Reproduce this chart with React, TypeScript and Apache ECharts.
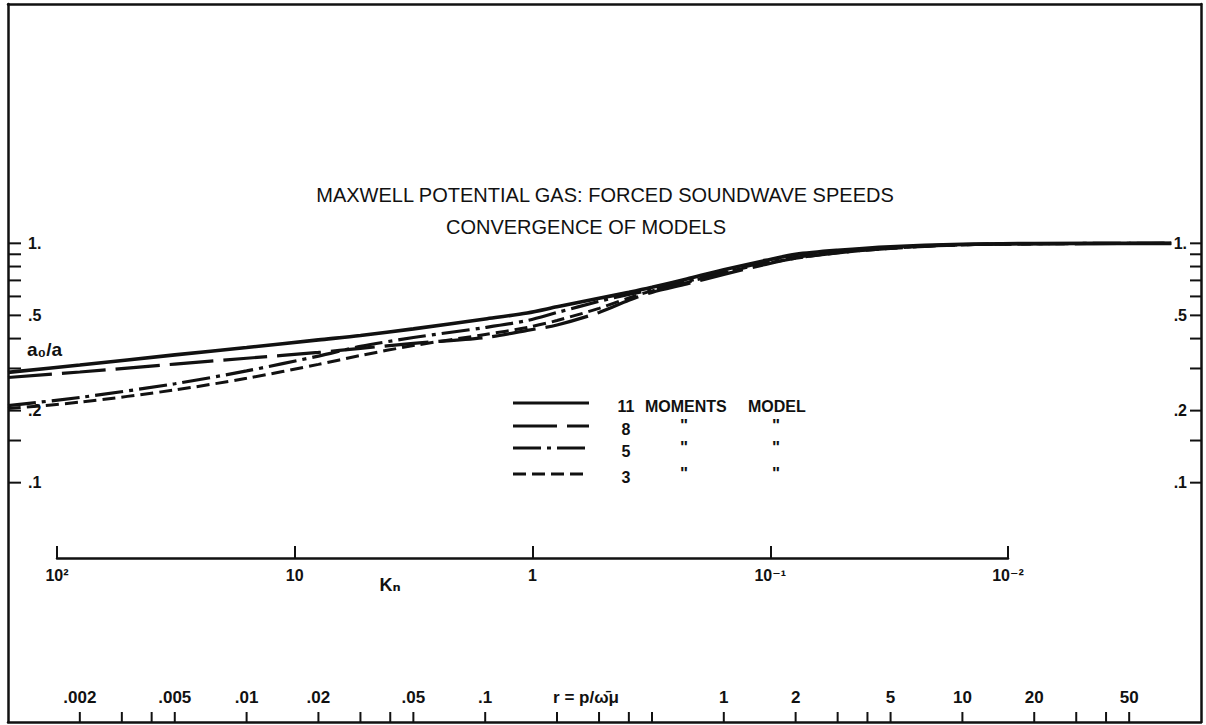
import { useEffect, useRef } from 'react';
import * as echarts from 'echarts';

// ---- data ----
// abscissa: r = p / (omega-bar mu), log scale
const R_SAMPLES = [0.001, 0.002, 0.005, 0.01, 0.02, 0.03, 0.05, 0.1, 0.15, 0.2, 0.3, 0.4, 0.5, 0.7, 1, 1.5, 2, 3, 5, 10, 20, 75];
// a0/a for each model
const MOMENTS_11 = [0.289, 0.31, 0.342, 0.367, 0.395, 0.412, 0.439, 0.483, 0.512, 0.543, 0.589, 0.624, 0.655, 0.71, 0.775, 0.849, 0.899, 0.935, 0.967, 0.99, 0.998, 1.0];
const MOMENTS_8 = [0.275, 0.29, 0.313, 0.331, 0.35, 0.364, 0.382, 0.404, 0.433, 0.456, 0.514, 0.578, 0.624, 0.677, 0.742, 0.817, 0.866, 0.913, 0.953, 0.986, 0.995, 1.0];
const MOMENTS_5 = [0.21, 0.227, 0.259, 0.293, 0.338, 0.371, 0.404, 0.445, 0.476, 0.514, 0.572, 0.612, 0.639, 0.693, 0.76, 0.833, 0.874, 0.921, 0.958, 0.988, 0.997, 1.0];
const MOMENTS_3 = [0.204, 0.217, 0.244, 0.273, 0.312, 0.34, 0.374, 0.416, 0.445, 0.476, 0.535, 0.592, 0.633, 0.687, 0.753, 0.825, 0.866, 0.913, 0.953, 0.986, 0.995, 1.0];
const SERIES_NAMES = ['11', '8', '5', '3'];

// axis ticks & labels
const Y_TICKS = [1, 0.9, 0.8, 0.7, 0.6, 0.5, 0.4, 0.3, 0.2, 0.15, 0.1];
const Y_TICK_LABELS = ['1.', '', '', '', '', '.5', '', '', '.2', '', '.1'];
const R_TICKS = [0.002, 0.003, 0.004, 0.005, 0.01, 0.02, 0.03, 0.04, 0.05, 0.1, 0.2, 0.3, 0.4, 0.5, 1, 2, 3, 4, 5, 10, 20, 30, 40, 50];
const R_TICK_LABELS = ['.002', '', '', '.005', '.01', '.02', '', '', '.05', '.1', '', '', '', '', '1', '2', '', '', '5', '10', '20', '', '', '50'];
const KN_TICKS = [100, 10, 1, 0.1, 0.01];
const KN_TICK_LABELS = ['10²', '10', '1', '10⁻¹', '10⁻²'];

const TITLE_LINES = ['MAXWELL POTENTIAL GAS: FORCED SOUNDWAVE SPEEDS', 'CONVERGENCE OF MODELS'];
const LEGEND_HEADERS = ['MOMENTS', 'MODEL'];
const DITTO = '"';
const Y_NAME = 'a₀/a';
const KN_NAME = 'Kₙ';
const R_NAME = 'r = p/ω̄μ';

// ---- styling ----
const INK = '#111';
const FONT = '"Liberation Sans", "DejaVu Sans", Arial, sans-serif';
const X_MIN = 0.001;
const X_MAX = 100;
const Y_MIN = 0.01;
const Y_MAX = 10;
const DASHES: (number[] | 'solid')[] = ['solid', [44, 10], [28, 6, 4, 6], [13, 6]];
const WIDTHS = [3.6, 3.2, 3.2, 3];
const LEGEND_ROWS = [403, 426, 448, 474];

export default function App() {
  const ref = useRef<HTMLDivElement>(null);

  useEffect(() => {
    if (!ref.current) return;
    const chart = echarts.init(ref.current, undefined, { renderer: 'svg' });
    const seriesData = [MOMENTS_11, MOMENTS_8, MOMENTS_5, MOMENTS_3];

    const lineSeries = SERIES_NAMES.map((name, i) => ({
      name,
      type: 'line',
      xAxisIndex: 0,
      yAxisIndex: 0,
      data: R_SAMPLES.map((r, j) => [r, seriesData[i][j]]),
      smooth: 0.3,
      symbol: 'none',
      z: 5 - i,
      lineStyle: { color: INK, width: WIDTHS[i], type: DASHES[i], cap: 'butt' },
    }));

    const labelStyle = (text: string, align: string, size = 16) => ({
      text,
      align,
      verticalAlign: 'middle',
      fontSize: size,
      fontWeight: 'bold',
      fontFamily: FONT,
      fill: INK,
    });

    const yTickSeries = {
      type: 'custom',
      name: 'yTicks',
      xAxisIndex: 0,
      yAxisIndex: 0,
      silent: true,
      clip: false,
      z: 3,
      data: Y_TICKS.map((v) => [X_MIN, v]),
      renderItem: (params: any, api: any) => {
        const i = params.dataIndex;
        const v = api.value(1);
        const l = api.coord([X_MIN, v]);
        const r = api.coord([X_MAX, v]);
        const children: any[] = [
          { type: 'line', shape: { x1: l[0], y1: l[1], x2: l[0] + 13, y2: l[1] }, style: { stroke: INK, lineWidth: 2 } },
          { type: 'line', shape: { x1: r[0] - 11, y1: r[1], x2: r[0], y2: r[1] }, style: { stroke: INK, lineWidth: 2 } },
        ];
        const label = Y_TICK_LABELS[i];
        if (label) {
          children.push({ type: 'text', x: l[0] + 20, y: l[1], style: labelStyle(label, 'left') });
          children.push({ type: 'text', x: r[0] - 14, y: r[1], style: labelStyle(label, 'right') });
        }
        return { type: 'group', children };
      },
    };

    const rTickSeries = {
      type: 'custom',
      name: 'rTicks',
      xAxisIndex: 0,
      yAxisIndex: 0,
      silent: true,
      clip: false,
      z: 3,
      data: R_TICKS.map((v) => [v, Y_MIN]),
      renderItem: (params: any, api: any) => {
        const i = params.dataIndex;
        const p = api.coord([api.value(0), Y_MIN]);
        const children: any[] = [
          { type: 'line', shape: { x1: p[0], y1: p[1], x2: p[0], y2: p[1] - 10 }, style: { stroke: INK, lineWidth: 2 } },
        ];
        const label = R_TICK_LABELS[i];
        if (label) {
          children.push({ type: 'text', x: p[0], y: p[1] - 25, style: labelStyle(label, 'center', 17) });
        }
        return { type: 'group', children };
      },
    };

    const knLabel = (v: number) => {
      const idx = KN_TICKS.findIndex((t) => Math.abs(Math.log10(t) - Math.log10(v)) < 1e-6);
      return idx >= 0 ? KN_TICK_LABELS[idx] : '';
    };

    const textStyle = (text: string, size: number, weight = 'bold', align = 'left') => ({
      text, align, verticalAlign: 'middle', fontSize: size, fontWeight: weight, fontFamily: FONT, fill: INK,
    });

    const graphics: any[] = [
      { type: 'text', x: 605, y: 195, style: textStyle(TITLE_LINES[0], 20, 'normal', 'center') },
      { type: 'text', x: 586, y: 227, style: textStyle(TITLE_LINES[1], 20, 'normal', 'center') },
      { type: 'text', x: 27, y: 349, style: textStyle(Y_NAME, 19) },
      { type: 'text', x: 390, y: 585, style: textStyle(KN_NAME, 18, 'bold', 'center') },
      { type: 'text', x: 586, y: 697, style: textStyle(R_NAME, 17, 'bold', 'center') },
      { type: 'text', x: 645, y: 406, style: textStyle(LEGEND_HEADERS[0], 16) },
      { type: 'text', x: 748, y: 406, style: textStyle(LEGEND_HEADERS[1], 16) },
    ];
    SERIES_NAMES.forEach((name, i) => {
      const y = LEGEND_ROWS[i];
      graphics.push({
        type: 'line',
        shape: { x1: 513, y1: y, x2: 589, y2: y },
        style: { stroke: INK, lineWidth: 3, lineDash: DASHES[i] === 'solid' ? null : DASHES[i] },
      });
      graphics.push({ type: 'text', x: 626, y: y + 3, style: textStyle(name, 16, 'bold', 'center') });
      if (i > 0) {
        graphics.push({ type: 'text', x: 684, y: y - 1, style: textStyle(DITTO, 17, 'bold', 'center') });
        graphics.push({ type: 'text', x: 776, y: y - 1, style: textStyle(DITTO, 17, 'bold', 'center') });
      }
    });

    const frameLine = { show: true, lineStyle: { color: INK, width: 2.5 } };

    chart.setOption({
      animation: false,
      backgroundColor: '#fff',
      grid: [
        { left: 8, right: 5, top: 4, bottom: 3, containLabel: false, outerBoundsMode: 'none' },
        { left: 57, right: 198, top: 540, height: 18, containLabel: false, outerBoundsMode: 'none' },
      ],
      xAxis: [
        {
          type: 'log', gridIndex: 0, min: X_MIN, max: X_MAX, position: 'bottom',
          axisLine: frameLine, axisTick: { show: false }, axisLabel: { show: false }, splitLine: { show: false },
        },
        {
          type: 'log', gridIndex: 0, min: X_MIN, max: X_MAX, position: 'top',
          axisLine: frameLine, axisTick: { show: false }, axisLabel: { show: false }, splitLine: { show: false },
        },
        {
          type: 'log', gridIndex: 1, min: 0.01, max: 100, inverse: true, position: 'bottom',
          axisLine: { show: true, onZero: false, lineStyle: { color: INK, width: 2.5 } },
          axisTick: { show: true, inside: true, length: 12, lineStyle: { color: INK, width: 2 } },
          axisLabel: { show: true, margin: 9, formatter: knLabel, color: INK, fontSize: 16, fontWeight: 'bold', fontFamily: FONT },
          splitLine: { show: false },
        },
      ],
      yAxis: [
        {
          type: 'log', gridIndex: 0, min: Y_MIN, max: Y_MAX, position: 'left',
          axisLine: frameLine, axisTick: { show: false }, axisLabel: { show: false }, splitLine: { show: false },
        },
        {
          type: 'log', gridIndex: 0, min: Y_MIN, max: Y_MAX, position: 'right',
          axisLine: frameLine, axisTick: { show: false }, axisLabel: { show: false }, splitLine: { show: false },
        },
        { type: 'value', gridIndex: 1, show: false },
      ],
      series: [...lineSeries, yTickSeries, rTickSeries],
      graphic: graphics,
    });

    return () => chart.dispose();
  }, []);

  return <div ref={ref} style={{ position: 'fixed', left: 0, top: 0, width: 1206, height: 725 }} />;
}
